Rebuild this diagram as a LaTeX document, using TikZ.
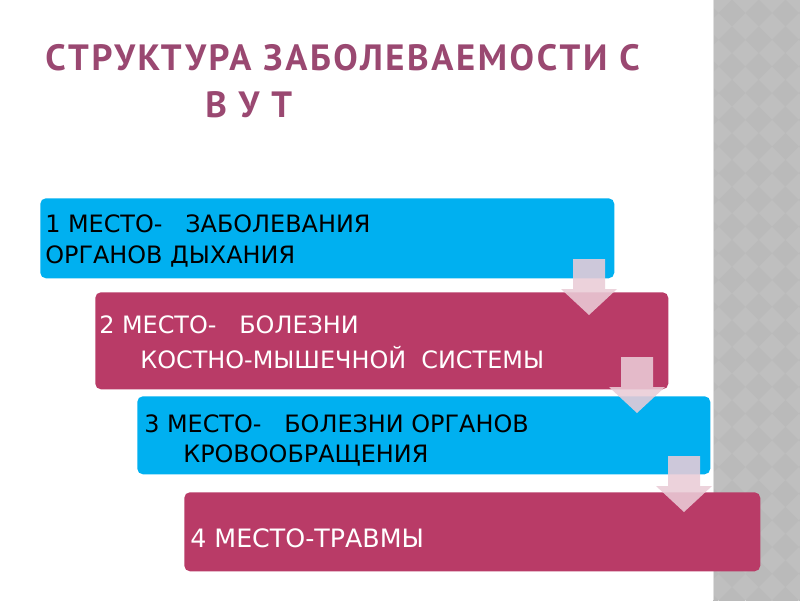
\documentclass[tikz,border=0pt]{standalone}
\usepackage{fontspec}
\setmainfont{DejaVu Sans}
\newfontfamily\titlefont[LetterSpace=7.2]{PT Sans}
\usepackage{xcolor}
\usetikzlibrary{positioning}

\definecolor{titlepurple}{RGB}{154,72,113}
\definecolor{skyblue}{RGB}{0,176,240}
\definecolor{crimson}{RGB}{185,59,103}
\definecolor{stripgray}{RGB}{191,191,191}
\definecolor{stripdark}{RGB}{186,186,186}
\definecolor{arrowpink}{RGB}{234,204,215}

\begin{document}
\begin{tikzpicture}[
        x=0.025cm, y=-0.025cm,
        box/.style 2 args={rectangle, rounded corners=4pt, inner sep=0pt, anchor=north west,
            minimum width=#1*0.025cm, minimum height=#2*0.025cm},
        heading/.style={anchor=base west, inner sep=0pt, text=titlepurple,
            font={\titlefont\bfseries\fontsize{26}{30}\selectfont}},
        lbl/.style={anchor=base west, inner sep=0pt, font={\fontsize{17}{20}\selectfont}},
        downarr/.pic={
            \fill[arrowpink, fill opacity=0.88] (-16,0) -- (16,0) -- (16,30) -- (28,30)
                -- (0,56) -- (-28,30) -- (-16,30) -- cycle;
        }
    ]
        \useasboundingbox (0,0) rectangle (800,600);
        \fill[white] (0,0) rectangle (800,600);

        % Side strip
        \fill[stripgray] (713,0) rectangle (800,600);
        \begin{scope}
            \clip (713,0) rectangle (800,600);
            \foreach \i in {-1,...,3}
                \foreach \j in {-1,...,23}
                    \fill[stripdark] (732+26.7*\i-13.35, 13+26.7*\j) -- ++(13.35,-13.35)
                        -- ++(13.35,13.35) -- ++(-13.35,13.35) -- cycle;
        \end{scope}
        \draw[gray!25, line width=1pt] (713.5,0) -- (713.5,600);

        % Title
        \node (title1) [heading] at (45,70) {СТРУКТУРА ЗАБОЛЕВАЕМОСТИ С};
        \node (title2) [heading] at (205,117) {В У Т};

        % Boxes
        \node (box1) [box={574}{80}, fill=skyblue] at (40,198) {};
        \node (box2) [box={573}{97}, fill=crimson] at (95,292) {};
        \node (box3) [box={573}{78}, fill=skyblue] at (137,396) {};
        \node (box4) [box={576}{79}, fill=crimson] at (184,492) {};

        % Texts
        \node (txt1a) [lbl] at (45,232) {1 МЕСТО-\ \ \ ЗАБОЛЕВАНИЯ};
        \node (txt1b) [lbl] at (45,263) {ОРГАНОВ ДЫХАНИЯ};
        \node (txt2a) [lbl, text=white] at (99,333) {2 МЕСТО-\ \ \ БОЛЕЗНИ};
        \node (txt2b) [lbl, text=white] at (140,368) {КОСТНО-МЫШЕЧНОЙ\ \ СИСТЕМЫ};
        \node (txt3a) [lbl] at (144,432) {3 МЕСТО-\ \ \ БОЛЕЗНИ ОРГАНОВ};
        \node (txt3b) [lbl] at (183,462) {КРОВООБРАЩЕНИЯ};
        \node (txt4) [lbl, text=white, font={\fontsize{18}{22}\selectfont}] at (190,547) {4 МЕСТО-ТРАВМЫ};

        % Arrows between boxes
        \pic at (589,259) {downarr};
        \pic at (637,357) {downarr};
        \pic at (684,456) {downarr};

    \end{tikzpicture}
\end{document}
